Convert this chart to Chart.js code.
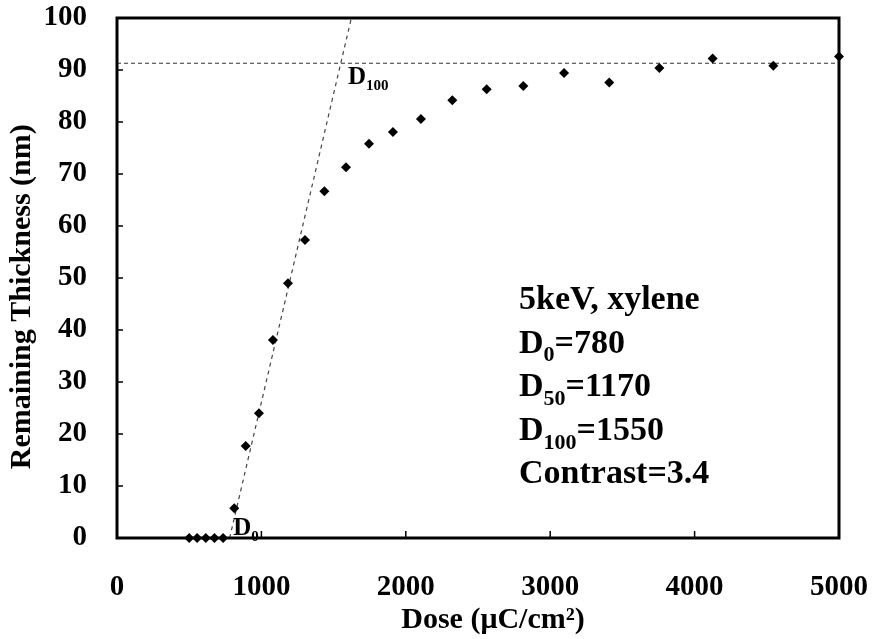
<!DOCTYPE html>
<html>
<head>
<meta charset="utf-8">
<script src="https://cdn.jsdelivr.net/npm/chart.js@4"></script>
<style>
  html, body { margin: 0; padding: 0; background: #fff; }
</style>
</head>
<body>
<canvas id="chart" width="873" height="639"></canvas>
<script>
'use strict';

// measured contrast curve (dose in uC/cm2, remaining thickness in nm)
const doses = [500, 555, 615, 675, 735, 812, 891, 983, 1080, 1184, 1302, 1436, 1586,
  1745, 1911, 2105, 2322, 2560, 2814, 3096, 3409, 3756, 4125, 4545, 5000];
const thickness = [0, 0, 0, 0, 0, 5.7, 17.7, 24.0, 38.1, 49.0, 57.3, 66.7, 71.3,
  75.8, 78.1, 80.6, 84.2, 86.3, 86.9, 89.4, 87.6, 90.4, 92.2, 90.8, 92.6];

// fitted lines
const fitDose = [780, 1623];
const fitThickness = [0, 100];
const plateauDose = [0, 5000];
const plateauThickness = [91.3, 91.3];

const xTicks = [0, 1000, 2000, 3000, 4000, 5000];
const yTicks = [0, 10, 20, 30, 40, 50, 60, 70, 80, 90, 100];

const infoLines = [
  ['5keV, xylene', '', ''],
  ['D', '0', '=780'],
  ['D', '50', '=1170'],
  ['D', '100', '=1550'],
  ['Contrast=3.4', '', ''],
];

const serif = '"Liberation Serif", "Times New Roman", serif';
Chart.defaults.font.family = serif;
Chart.defaults.color = '#000';

function toPoints(xs, ys) {
  return xs.map((x, i) => ({ x: x, y: ys[i] }));
}

// draw "D" with a subscript at a pixel position
function drawSubLabel(ctx, x, y, main, sub, rest, size, subSize) {
  ctx.font = 'bold ' + size + 'px ' + serif;
  ctx.fillText(main, x, y);
  let w = ctx.measureText(main).width;
  if (sub) {
    ctx.font = 'bold ' + subSize + 'px ' + serif;
    ctx.fillText(sub, x + w, y + size * 0.26);
    w += ctx.measureText(sub).width;
  }
  if (rest) {
    ctx.font = 'bold ' + size + 'px ' + serif;
    ctx.fillText(rest, x + w, y);
  }
}

const framePlugin = {
  id: 'frame',
  afterDraw(chart) {
    const ctx = chart.ctx;
    const a = chart.chartArea;
    const xs = chart.scales.x;
    const ys = chart.scales.y;
    ctx.save();
    ctx.strokeStyle = '#000';
    ctx.lineWidth = 1.5;
    // inward tick marks
    ctx.beginPath();
    ys.ticks.forEach((t) => {
      const py = ys.getPixelForValue(t.value);
      ctx.moveTo(a.left, py);
      ctx.lineTo(a.left + 6, py);
    });
    xs.ticks.forEach((t) => {
      const px = xs.getPixelForValue(t.value);
      ctx.moveTo(px, a.bottom);
      ctx.lineTo(px, a.bottom - 7);
    });
    ctx.stroke();
    ctx.lineWidth = 3;
    ctx.strokeRect(a.left, a.top, a.right - a.left, a.bottom - a.top);

    ctx.fillStyle = '#000';
    ctx.textBaseline = 'alphabetic';
    ctx.textAlign = 'left';
    // D100 and D0 markers on the fit line
    drawSubLabel(ctx, xs.getPixelForValue(1600), ys.getPixelForValue(87.4), 'D', '100', '', 25, 15);
    drawSubLabel(ctx, xs.getPixelForValue(805), ys.getPixelForValue(0.6), 'D', '0', '', 25, 15);
    // info block
    infoLines.forEach((ln, i) => {
      drawSubLabel(ctx, 519, 309 + i * 43.6, ln[0], ln[1], ln[2], 34, 22);
    });
    ctx.restore();
  },
};

new Chart(document.getElementById('chart'), {
  type: 'scatter',
  data: {
    datasets: [
      {
        data: toPoints(doses, thickness),
        pointStyle: 'rectRot',
        pointRadius: 5,
        backgroundColor: '#000',
        borderColor: '#000',
        borderWidth: 0,
        clip: false,
        order: 0,
      },
      {
        type: 'line',
        data: toPoints(fitDose, fitThickness),
        borderColor: '#444',
        borderWidth: 1.2,
        borderDash: [4, 4],
        pointRadius: 0,
        order: 1,
      },
      {
        type: 'line',
        data: toPoints(plateauDose, plateauThickness),
        borderColor: '#333',
        borderWidth: 1.2,
        borderDash: [4, 3],
        pointRadius: 0,
        order: 2,
      },
    ],
  },
  options: {
    responsive: false,
    animation: false,
    layout: { padding: { top: 18, right: 34, left: 0, bottom: 0 } },
    plugins: {
      legend: { display: false },
      tooltip: { enabled: false },
    },
    scales: {
      x: {
        type: 'linear',
        min: 0,
        max: 5000,
        afterBuildTicks: (scale) => {
          scale.ticks = xTicks.map((v) => ({ value: v }));
        },
        afterFit: (scale) => {
          scale.height = 101;
          scale.paddingLeft = 0;
          scale.paddingRight = 0;
        },
        grid: { display: false, drawTicks: false },
        border: { display: false },
        ticks: {
          padding: 32,
          maxRotation: 0,
          font: { size: 29, weight: 'bold' },
          callback: (v) => String(v),
        },
        title: {
          display: true,
          // leading spaces nudge the title right, as in the original
          text: '    Dose (μC/cm²)',
          font: { size: 30, weight: 'bold' },
          padding: { top: 0, bottom: 1 },
        },
      },
      y: {
        type: 'linear',
        min: 0,
        max: 100,
        afterBuildTicks: (scale) => {
          scale.ticks = yTicks.map((v) => ({ value: v }));
        },
        afterFit: (scale) => {
          scale.width = 117;
          scale.paddingTop = 0;
          scale.paddingBottom = 0;
        },
        grid: { display: false, drawTicks: false },
        border: { display: false },
        ticks: {
          padding: 30,
          font: { size: 29, weight: 'bold' },
          callback: (v) => String(v),
        },
        title: {
          display: true,
          text: 'Remaining Thickness (nm)     ',
          font: { size: 30, weight: 'bold' },
          padding: { top: 4, bottom: 0 },
        },
      },
    },
  },
  plugins: [framePlugin],
});
</script>
</body>
</html>
